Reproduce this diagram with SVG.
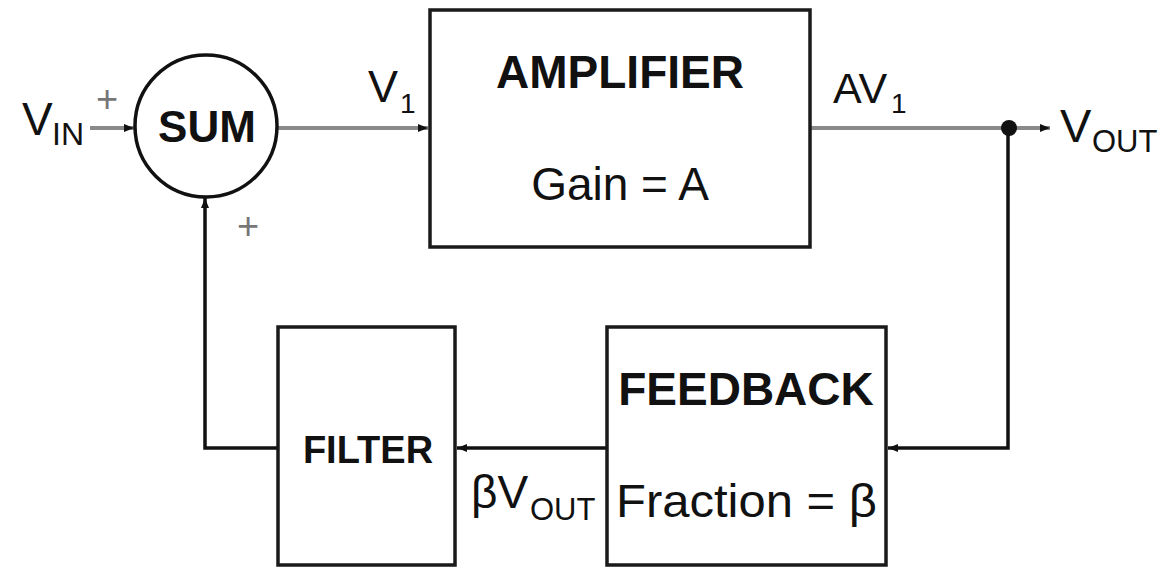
<svg xmlns="http://www.w3.org/2000/svg" width="1171" height="567" viewBox="0 0 1171 567">
<style>
.box{fill:#fff;stroke:#1a1a1a;stroke-width:3.5}
.t{font-family:"Liberation Sans",Arial,sans-serif;fill:#111}
.b{font-weight:bold}
.g{stroke:#8a8a8a;stroke-width:4;fill:none}
.k{stroke:#111;stroke-width:3.5;fill:none}
.plus{font-family:"Liberation Sans",Arial,sans-serif;fill:#777}
</style>
<defs>
<marker id="ah" viewBox="0 0 10 10" refX="10" refY="5" markerWidth="10" markerHeight="10" markerUnits="userSpaceOnUse" orient="auto">
<path d="M0,1 L10,5 L0,9 z" fill="#111"/>
</marker>
</defs>
<rect width="1171" height="567" fill="#fff"/>
<g id="connectors">
<line class="g" x1="90" y1="128" x2="134" y2="128" marker-end="url(#ah)"/>
<line class="g" x1="277" y1="128" x2="428" y2="128" marker-end="url(#ah)"/>
<line class="g" x1="810" y1="128" x2="1010" y2="128"/>
<line class="g" x1="1010" y1="128" x2="1050" y2="128" marker-end="url(#ah)"/>
<polyline class="k" points="1008,128 1008,448 888,448" marker-end="url(#ah)"/>
<line class="k" x1="607" y1="448" x2="457" y2="448" marker-end="url(#ah)"/>
<polyline class="k" points="278,448 205,448 205,198" marker-end="url(#ah)"/>
<circle cx="1009" cy="128" r="8" fill="#111"/>
</g>
<g id="sum">
<circle cx="206" cy="126" r="71" fill="#fff" stroke="#111" stroke-width="3.5"/>
<text class="t b" x="207" y="142" font-size="44" text-anchor="middle">SUM</text>
</g>
<g id="amplifier">
<rect class="box" x="430" y="10" width="380" height="237"/>
<text class="t b" x="620" y="88" font-size="46" text-anchor="middle">AMPLIFIER</text>
<text class="t" x="620" y="200" font-size="46" text-anchor="middle">Gain = A</text>
</g>
<g id="feedback">
<rect class="box" x="607" y="327" width="279" height="238"/>
<text class="t b" x="746" y="405" font-size="46" text-anchor="middle">FEEDBACK</text>
<text class="t" x="616" y="517" font-size="47" textLength="261" lengthAdjust="spacingAndGlyphs">Fraction = β</text>
</g>
<g id="filter">
<rect class="box" x="278" y="327" width="177" height="238"/>
<text class="t b" x="368" y="463" font-size="38" text-anchor="middle">FILTER</text>
</g>
<g id="labels">
<text class="t" x="22" y="135" font-size="46">V</text>
<text class="t" x="52" y="145" font-size="32">IN</text>
<text class="plus" x="107" y="112" font-size="38" text-anchor="middle">+</text>
<text class="plus" x="248" y="239" font-size="38" text-anchor="middle">+</text>
<text class="t" x="368" y="102" font-size="45">V</text>
<text class="t" x="400" y="113" font-size="28">1</text>
<text class="t" x="833" y="103" font-size="43">AV</text>
<text class="t" x="891" y="113" font-size="28">1</text>
<text class="t" x="1060" y="142" font-size="47">V</text>
<text class="t" x="1092" y="152" font-size="31">OUT</text>
<text class="t" x="471" y="508" font-size="46">βV</text>
<text class="t" x="530" y="520" font-size="31">OUT</text>
</g>
</svg>
